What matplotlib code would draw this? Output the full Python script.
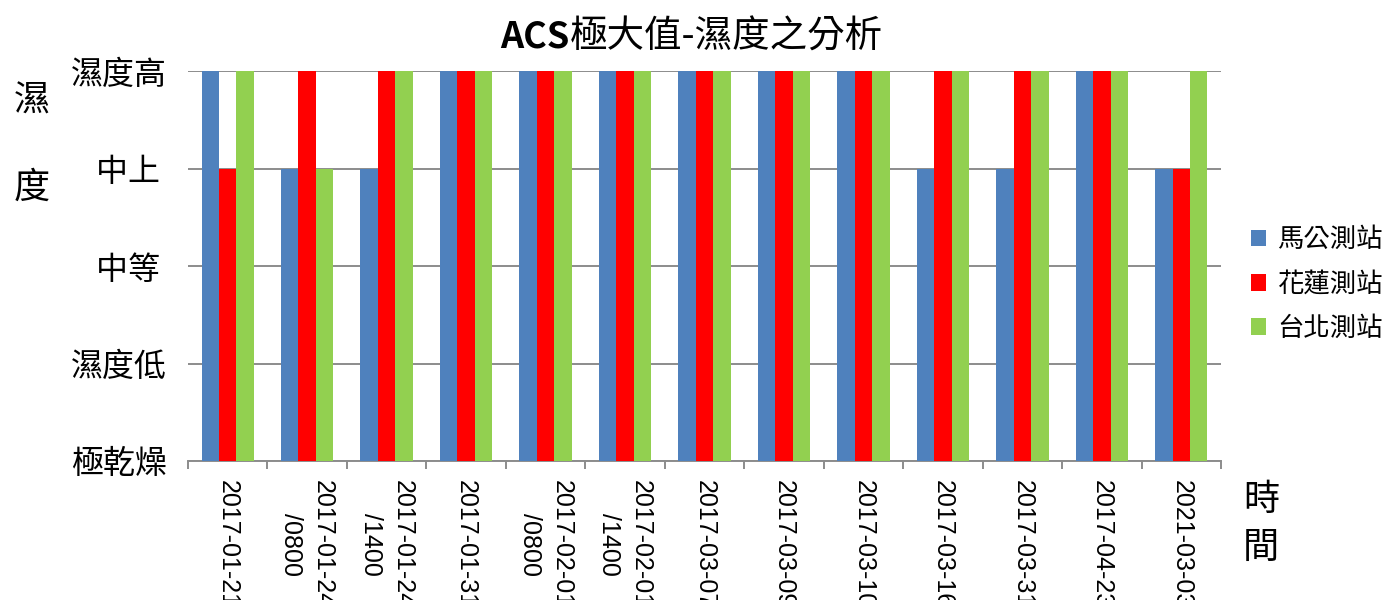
import numpy as np
import matplotlib
matplotlib.use("Agg")
import matplotlib.pyplot as plt
from matplotlib.patches import Patch

# Humidity levels (low -> high) and observation times
levels = ["極乾燥", "濕度低", "中等 ", "中上 ", "濕度高"]
times = ["2017-01-21", "2017-01-24\n/0800", "2017-01-24\n/1400", "2017-01-31",
         "2017-02-01\n/0800", "2017-02-01\n/1400", "2017-03-07", "2017-03-09",
         "2017-03-10", "2017-03-16", "2017-03-31", "2017-04-23", "2021-03-03"]

# Level index per station (0 = 極乾燥 ... 4 = 濕度高)
magong = [4, 3, 3, 4, 4, 4, 4, 4, 4, 3, 3, 4, 3]
hualien = [3, 4, 4, 4, 4, 4, 4, 4, 4, 4, 4, 4, 3]
taipei = [4, 3, 4, 4, 4, 4, 4, 4, 4, 4, 4, 4, 4]

stations = ["馬公測站", "花蓮測站", "台北測站"]
colors = ["#4F81BD", "#FF0000", "#92D050"]

CJK = ["Noto Sans CJK TC", "DejaVu Sans"]
plt.rcParams["font.family"] = CJK

fig = plt.figure(figsize=(13.88, 6.0), dpi=100)
ax = fig.add_axes([188 / 1388, 1 - 461 / 600, (1221 - 188) / 1388, (461 - 71) / 600])

x = np.arange(len(times))
w = 0.22
for i, (vals, col) in enumerate(zip([magong, hualien, taipei], colors)):
    ax.bar(x + (i - 1) * w, vals, width=w, color=col, zorder=3)

ax.set_xlim(-0.5, len(times) - 0.5)
ax.set_ylim(0, 4)

grid_col = "#8C8C8C"
ax.set_yticks(range(len(levels)))
ax.set_yticklabels(levels, fontsize=23)
ax.tick_params(axis="y", length=0, pad=15)
ax.yaxis.grid(True, color=grid_col, linewidth=1.4, zorder=0)

ax.set_xticks(x)
ax.set_xticklabels(times, rotation=270, fontsize=18, family="Liberation Sans",
                   multialignment="center", linespacing=1.4)
ax.tick_params(axis="x", which="major", length=0, pad=14)
ax.set_xticks(np.arange(-0.5, len(times)), minor=True)
ax.tick_params(axis="x", which="minor", length=6, width=1.4, color=grid_col, direction="out")

for s in ["top", "right", "left"]:
    ax.spines[s].set_visible(False)
ax.spines["bottom"].set_color(grid_col)
ax.spines["bottom"].set_linewidth(1.4)

# Title: bold "ACS" followed by regular Chinese text
fig.text(570 / 1388, 1 - 37 / 600, "ACS", fontsize=26, fontweight="bold",
         ha="right", va="center")
fig.text(570 / 1388, 1 - 37 / 600, "極大值-濕度之分析", fontsize=27,
         ha="left", va="center")

# Axis titles
fig.text(32 / 1388, 1 - 102 / 600, "濕", fontsize=26, ha="center", va="center")
fig.text(32 / 1388, 1 - 188 / 600, "度", fontsize=26, ha="center", va="center")
fig.text(1261 / 1388, 1 - 500 / 600, "時", fontsize=26, ha="center", va="center")
fig.text(1261 / 1388, 1 - 548 / 600, "間", fontsize=26, ha="center", va="center")

handles = [Patch(facecolor=c, edgecolor="none") for c in colors]
fig.legend(handles, stations, loc="center left", bbox_to_anchor=(1240 / 1388, 1 - 284 / 600),
           frameon=False, fontsize=19, handlelength=0.6, handleheight=0.6,
           handletextpad=0.4, labelspacing=0.65, borderaxespad=0)

fig.savefig("out.png", dpi=100)
